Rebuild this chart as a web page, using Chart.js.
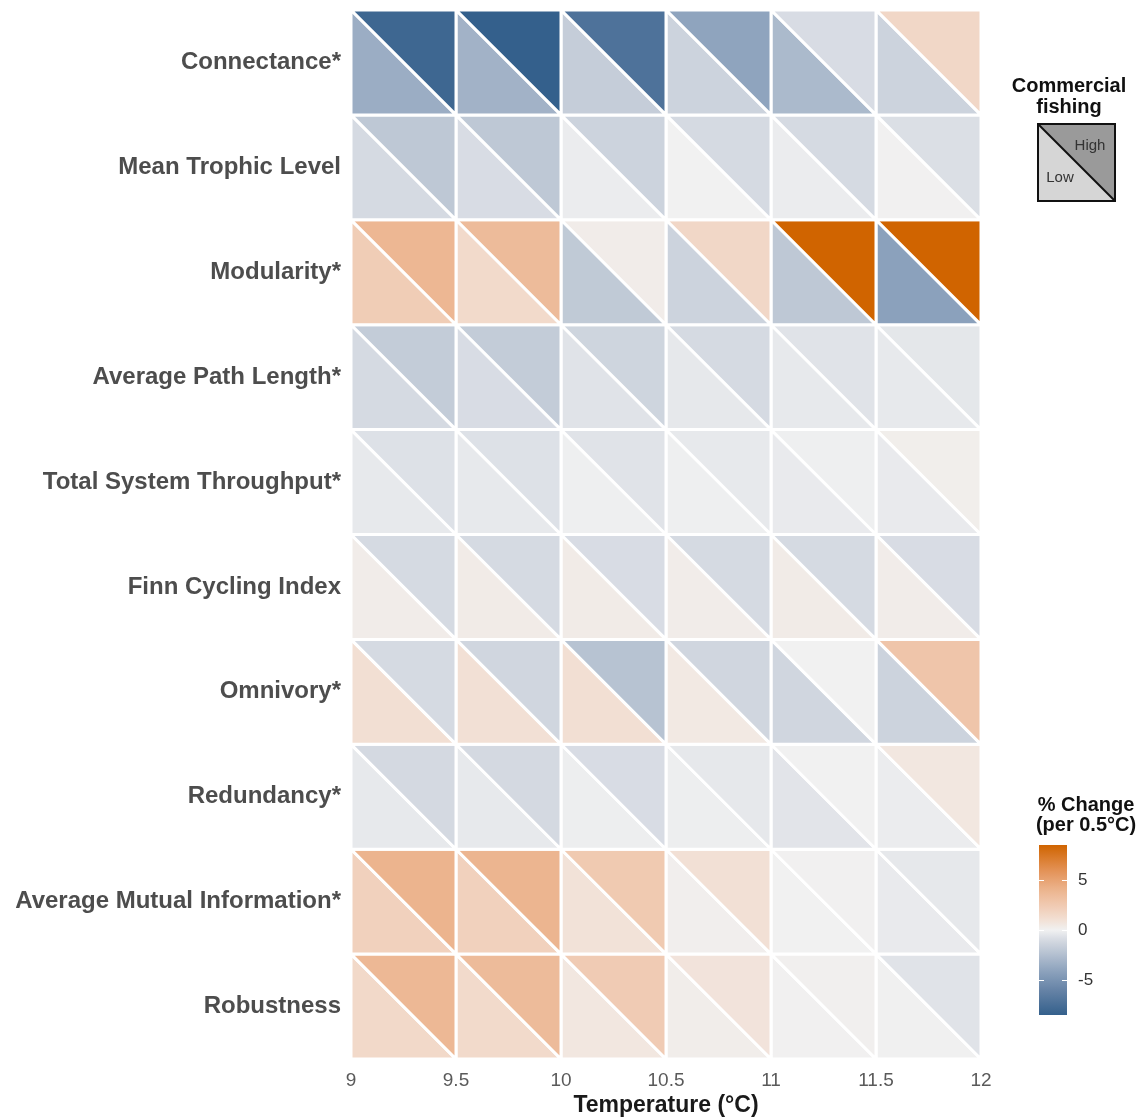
<!DOCTYPE html>
<html>
<head>
<meta charset="utf-8">
<script src="https://cdn.jsdelivr.net/npm/chart.js@4.4.1/dist/chart.umd.min.js"></script>
<style>
  html, body { margin: 0; padding: 0; background: #fff; }
  #wrap { width: 1146px; height: 1120px; }
</style>
</head>
<body>
<div id="wrap"><canvas id="chart"></canvas></div>
<script>
const metrics = [
  "Connectance*", "Mean Trophic Level", "Modularity*", "Average Path Length*",
  "Total System Throughput*", "Finn Cycling Index", "Omnivory*", "Redundancy*",
  "Average Mutual Information*", "Robustness"
];
const tempEdges = [9, 9.5, 10, 10.5, 11, 11.5, 12];

// % change per 0.5°C, upper-right triangle = high commercial fishing
const highFishing = [
  [-8.0, -8.5, -7.2, -4.0, -0.9, 1.6],
  [-2.0, -2.0, -1.4, -1.0, -1.0, -0.8],
  [3.8, 3.5, 0.3, 1.6, 8.5, 8.5],
  [-1.8, -1.8, -1.3, -1.0, -0.6, -0.45],
  [-0.7, -0.7, -0.6, -0.35, -0.1, 0.2],
  [-1.0, -1.0, -0.9, -1.0, -1.0, -0.9],
  [-1.0, -1.2, -2.3, -1.2, 0.0, 2.8],
  [-1.05, -1.05, -0.9, -0.4, 0.0, 0.6],
  [4.0, 3.9, 2.5, 1.0, 0.05, -0.4],
  [3.7, 3.5, 2.4, 0.8, 0.1, -0.6]
];
// lower-left triangle = low commercial fishing
const lowFishing = [
  [-3.5, -3.2, -1.7, -1.4, -2.8, -1.4],
  [-1.0, -0.9, -0.2, 0.0, -0.2, 0.05],
  [2.3, 1.4, -1.9, -1.4, -2.0, -4.2],
  [-1.0, -0.9, -0.6, -0.4, -0.35, -0.35],
  [-0.35, -0.35, -0.1, -0.1, -0.3, -0.3],
  [0.3, 0.35, 0.35, 0.3, 0.35, 0.3],
  [1.1, 1.0, 1.1, 0.5, -1.2, -1.4],
  [-0.35, -0.35, -0.15, -0.15, -0.55, -0.2],
  [2.0, 2.0, 0.9, 0.15, 0.0, -0.3],
  [1.5, 1.4, 0.6, 0.25, 0.05, -0.05]
];
const colorTicks = [-5, 0, 5];
const colorLimit = 8.5;

const colorStops = [
  [-8.5, "#34608c"], [-6, "#6683a6"], [-4, "#8fa4be"], [-2, "#bec8d5"],
  [-1, "#d5dae2"], [0, "#f1f1f1"], [1, "#f2e0d5"], [2, "#f1d1bd"],
  [4, "#ecb48e"], [6, "#e39155"], [8.5, "#d06400"]
];

function hexRgb(h) {
  return [1, 3, 5].map(i => parseInt(h.slice(i, i + 2), 16));
}

function fillFor(v) {
  v = Math.max(-colorLimit, Math.min(colorLimit, v));
  for (let k = 0; k < colorStops.length - 1; k++) {
    const [v0, c0] = colorStops[k];
    const [v1, c1] = colorStops[k + 1];
    if (v >= v0 && v <= v1) {
      const t = (v - v0) / (v1 - v0);
      const a = hexRgb(c0), b = hexRgb(c1);
      const rgb = a.map((x, n) => Math.round(x + (b[n] - x) * t));
      return `rgb(${rgb.join(",")})`;
    }
  }
  return "#f1f1f1";
}

function triangle(points, value) {
  return {
    data: points,
    showLine: true,
    fill: "shape",
    backgroundColor: fillFor(value),
    borderColor: "#ffffff",
    borderWidth: 3,
    pointRadius: 0,
    pointHoverRadius: 0
  };
}

const datasets = [];
metrics.forEach((name, i) => {
  for (let j = 0; j < tempEdges.length - 1; j++) {
    const x0 = tempEdges[j];
    const x1 = tempEdges[j + 1];
    datasets.push(triangle(
      [{ x: x0, y: i }, { x: x1, y: i }, { x: x1, y: i + 1 }, { x: x0, y: i }],
      highFishing[i][j]
    ));
    datasets.push(triangle(
      [{ x: x0, y: i }, { x: x0, y: i + 1 }, { x: x1, y: i + 1 }, { x: x0, y: i }],
      lowFishing[i][j]
    ));
  }
});

const legendsPlugin = {
  id: "sideLegends",
  afterDraw(chart) {
    const ctx = chart.ctx;
    ctx.save();

    // commercial fishing key
    ctx.fillStyle = "#111";
    ctx.textAlign = "center";
    ctx.textBaseline = "alphabetic";
    ctx.font = "bold 20px 'Liberation Sans', Arial, sans-serif";
    ctx.fillText("Commercial", 1069, 92);
    ctx.fillText("fishing", 1069, 113);

    const bx = 1038, by = 124, bs = 77;
    ctx.fillStyle = "#9a9a9a";
    ctx.beginPath();
    ctx.moveTo(bx, by); ctx.lineTo(bx + bs, by); ctx.lineTo(bx + bs, by + bs);
    ctx.closePath(); ctx.fill();
    ctx.fillStyle = "#d6d6d6";
    ctx.beginPath();
    ctx.moveTo(bx, by); ctx.lineTo(bx, by + bs); ctx.lineTo(bx + bs, by + bs);
    ctx.closePath(); ctx.fill();
    ctx.strokeStyle = "#111";
    ctx.lineWidth = 2;
    ctx.strokeRect(bx, by, bs, bs);
    ctx.beginPath();
    ctx.moveTo(bx, by); ctx.lineTo(bx + bs, by + bs); ctx.stroke();
    ctx.fillStyle = "#333";
    ctx.font = "15px 'Liberation Sans', Arial, sans-serif";
    ctx.textBaseline = "middle";
    ctx.fillText("High", 1090, 146);
    ctx.fillText("Low", 1060, 178);

    // colour bar
    ctx.fillStyle = "#111";
    ctx.textBaseline = "alphabetic";
    ctx.font = "bold 20px 'Liberation Sans', Arial, sans-serif";
    ctx.fillText("% Change", 1086, 811);
    ctx.fillText("(per 0.5°C)", 1086, 831);

    const cx = 1039, cw = 28, zeroY = 930, pxPerUnit = 10;
    const top = zeroY - colorLimit * pxPerUnit;
    const bottom = zeroY + colorLimit * pxPerUnit;
    const grad = ctx.createLinearGradient(0, top, 0, bottom);
    for (let s = 0; s <= 40; s++) {
      const v = colorLimit - (2 * colorLimit * s) / 40;
      grad.addColorStop(s / 40, fillFor(v));
    }
    ctx.fillStyle = grad;
    ctx.fillRect(cx, top, cw, bottom - top);

    ctx.strokeStyle = "#ffffff";
    ctx.lineWidth = 1;
    ctx.font = "17px 'Liberation Sans', Arial, sans-serif";
    ctx.textAlign = "left";
    ctx.textBaseline = "middle";
    colorTicks.forEach(t => {
      const y = Math.round(zeroY - t * pxPerUnit) + 0.5;
      ctx.beginPath();
      ctx.moveTo(cx, y); ctx.lineTo(cx + 5, y);
      ctx.moveTo(cx + cw - 5, y); ctx.lineTo(cx + cw, y);
      ctx.stroke();
      ctx.fillStyle = "#333";
      ctx.fillText(String(t), 1078, y);
    });

    ctx.restore();
  }
};

Chart.defaults.font.family = "'Liberation Sans', Arial, sans-serif";

new Chart(document.getElementById("chart"), {
  type: "scatter",
  data: { datasets },
  options: {
    responsive: true,
    maintainAspectRatio: false,
    animation: false,
    layout: { padding: { top: 10, right: 165, bottom: 0, left: 0 } },
    plugins: {
      legend: { display: false },
      tooltip: { enabled: false }
    },
    scales: {
      x: {
        type: "linear",
        min: 9,
        max: 12,
        grid: { display: false, drawTicks: false },
        border: { display: false },
        ticks: {
          stepSize: 0.5,
          padding: 10,
          color: "#5a5a5a",
          font: { size: 19 },
          callback: v => String(v)
        },
        title: {
          display: true,
          text: "Temperature (°C)",
          color: "#1a1a1a",
          font: { size: 23, weight: "bold" },
          padding: { top: 0, bottom: 1 }
        },
        afterFit: s => { s.height = 61; }
      },
      y: {
        type: "linear",
        min: 0,
        max: metrics.length,
        reverse: true,
        grid: { display: false, drawTicks: false },
        border: { display: false },
        afterBuildTicks: s => {
          s.ticks = metrics.map((_, i) => ({ value: i + 0.5 }));
        },
        ticks: {
          autoSkip: false,
          padding: 10,
          color: "#4d4d4d",
          font: { size: 24, weight: "bold" },
          callback: v => metrics[Math.floor(v)]
        },
        afterFit: s => {
          s.width = 351;
          s.paddingTop = 0;
          s.paddingBottom = 0;
        }
      }
    }
  },
  plugins: [legendsPlugin]
});
</script>
</body>
</html>
